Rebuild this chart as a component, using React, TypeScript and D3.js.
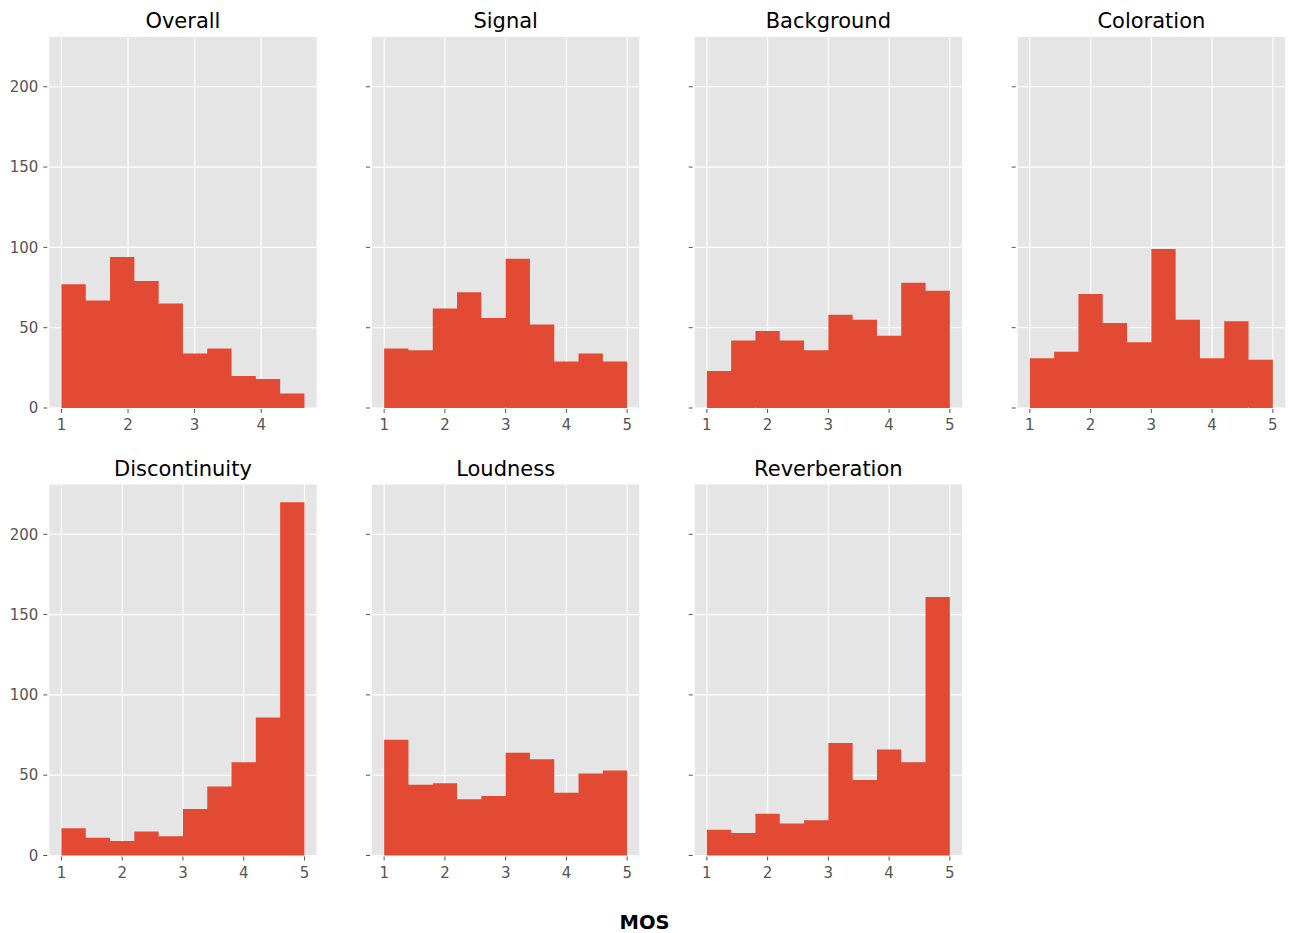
import React from 'react';
import * as d3 from 'd3';

// histogram counts per panel (10 bins each)
const panelNames = ['Overall', 'Signal', 'Background', 'Coloration', 'Discontinuity', 'Loudness', 'Reverberation'];
const overallCounts = [77, 67, 94, 79, 65, 34, 37, 20, 18, 9];
const signalCounts = [37, 36, 62, 72, 56, 93, 52, 29, 34, 29];
const backgroundCounts = [23, 42, 48, 42, 36, 58, 55, 45, 78, 73];
const colorationCounts = [31, 35, 71, 53, 41, 99, 55, 31, 54, 30];
const discontinuityCounts = [17, 11, 9, 15, 12, 29, 43, 58, 86, 220];
const loudnessCounts = [72, 44, 45, 35, 37, 64, 60, 39, 51, 53];
const reverberationCounts = [16, 14, 26, 20, 22, 70, 47, 66, 58, 161];
// data range (min, max) of each panel's MOS values
const dataRanges: [number, number][] = [
  [1, 4.65], [1, 5], [1, 5], [1, 5], [1, 5], [1, 5], [1, 5],
];
const yTicks = [0, 50, 100, 150, 200];
const xTicks = [1, 2, 3, 4, 5];
const xLabel = 'MOS';

const allCounts = [
  overallCounts, signalCounts, backgroundCounts, colorationCounts,
  discontinuityCounts, loudnessCounts, reverberationCounts,
];

const W = 1289;
const H = 933;
const colLeft = [49.3, 372, 694.7, 1017.7];
const rowTop = [37, 484.5];
const pw = 267.3;
const ph = 371;
const font = '"DejaVu Sans", "Liberation Sans", sans-serif';

const yMax = (d3.max(allCounts.flat()) as number) * 1.05;

function Panel({ idx }: { idx: number }) {
  const counts = allCounts[idx];
  const [lo, hi] = dataRanges[idx];
  const pad = (hi - lo) * 0.05;
  const left = colLeft[idx % 4];
  const top = rowTop[Math.floor(idx / 4)];
  const x = d3.scaleLinear().domain([lo - pad, hi + pad]).range([left, left + pw]);
  const y = d3.scaleLinear().domain([0, yMax]).range([top + ph, top]);
  const binW = (hi - lo) / counts.length;
  const ticksX = xTicks.filter(t => t >= lo - pad && t <= hi + pad);
  const showY = idx % 4 === 0;

  // all bars in one path so adjacent bars don't show seams
  const p = d3.path();
  counts.forEach((c, i) => {
    const x0 = x(lo + i * binW);
    const x1 = x(lo + (i + 1) * binW);
    p.rect(x0, y(c), x1 - x0, y(0) - y(c));
  });

  return (
    <g>
      <rect x={left} y={top} width={pw} height={ph} fill="#E5E5E5" />
      {/* grid */}
      {ticksX.map(t => (
        <line key={'gx' + t} x1={x(t)} x2={x(t)} y1={top} y2={top + ph} stroke="#fff" strokeWidth={1.1} />
      ))}
      {yTicks.map(t => (
        <line key={'gy' + t} x1={left} x2={left + pw} y1={y(t)} y2={y(t)} stroke="#fff" strokeWidth={1.1} />
      ))}
      <path d={p.toString()} fill="#E24A33" />
      {/* x ticks */}
      {ticksX.map(t => (
        <g key={'tx' + t}>
          <line x1={x(t)} x2={x(t)} y1={top + ph + 1} y2={top + ph + 5} stroke="#555" strokeWidth={1} />
          <text x={x(t)} y={top + ph + 22} textAnchor="middle" fontSize={15} fill="#555" fontFamily={font}>{t}</text>
        </g>
      ))}
      {/* y ticks */}
      {yTicks.map(t => (
        <g key={'ty' + t}>
          <line x1={left - 6} x2={left - 2} y1={y(t)} y2={y(t)} stroke="#555" strokeWidth={1} />
          {showY && (
            <text x={left - 11} y={y(t)} dy="0.35em" textAnchor="end" fontSize={15} fill="#555" fontFamily={font}>{t}</text>
          )}
        </g>
      ))}
      <text x={left + pw / 2} y={top - 9} textAnchor="middle" fontSize={21} fill="#000" fontFamily={font}>
        {panelNames[idx]}
      </text>
    </g>
  );
}

export default function App() {
  return (
    <div style={{ position: 'absolute', left: 0, top: 0, width: W, height: H, background: '#fff' }}>
      <svg width={W} height={H} style={{ display: 'block' }}>
        <rect width={W} height={H} fill="#fff" />
        {panelNames.map((_, i) => <Panel key={i} idx={i} />)}
        <text x={W / 2} y={929} textAnchor="middle" fontSize={19.5} fontWeight="bold" fill="#000" fontFamily={font}>
          {xLabel}
        </text>
      </svg>
    </div>
  );
}
